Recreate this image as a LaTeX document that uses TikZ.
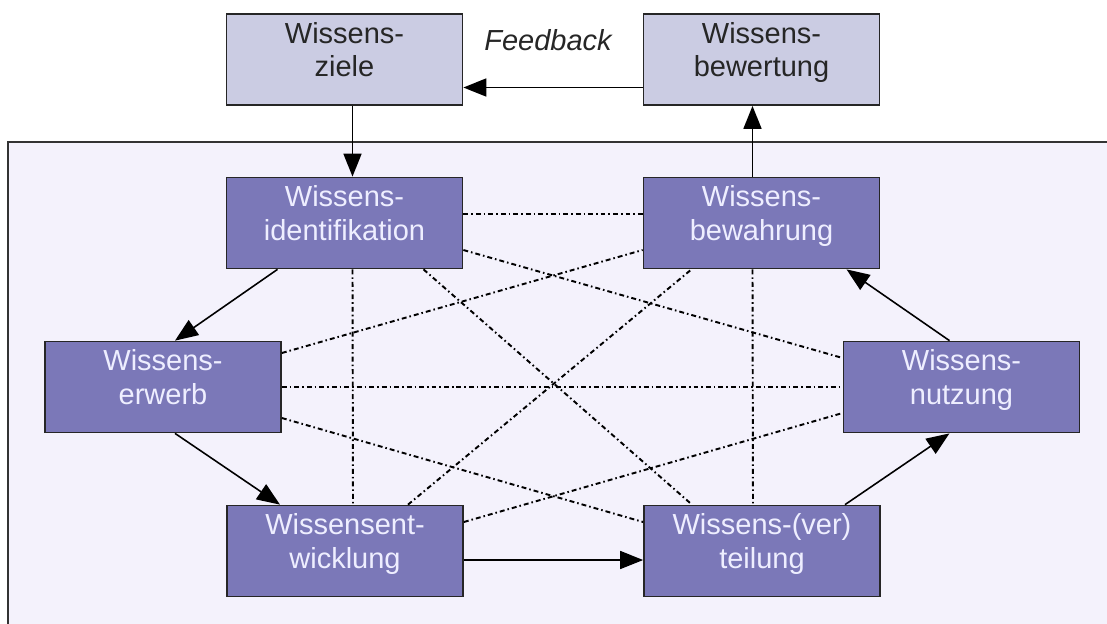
\documentclass[tikz,border=0pt]{standalone}
\usepackage{tikz}
\usepackage{xcolor}
\usepackage{fontspec}
\setmainfont{Liberation Sans}
\usetikzlibrary{arrows.meta,calc}

\definecolor{hell}{HTML}{CBCCE3}
\definecolor{dunkel}{HTML}{7B78B8}
\definecolor{grund}{HTML}{F4F2FC}
\definecolor{schrift}{HTML}{EEEEFF}

\begin{document}
\begin{tikzpicture}[x=0.02cm, y=-0.02cm,
  kasten/.style={rectangle, draw=black!85, line width=1pt, minimum width=4.72cm, text width=4.6cm, align=center, inner sep=0pt, text height=0.58cm, text depth=1.24cm, font=\fontsize{16.5pt}{19.3pt}\selectfont},
  oben/.style={kasten, fill=hell, text=black!85},
  innen/.style={kasten, fill=dunkel, text=schrift},
  pfeil/.style={-{Triangle[length=0.46cm, width=0.36cm]}, line width=0.9pt},
  punkt/.style={line width=1.1pt, dash pattern=on 2.8pt off 1.7pt on 0.9pt off 1.7pt}]
\useasboundingbox (0,0) rectangle (1107,623);
\clip (0,0) rectangle (1107,623);

\draw[line width=1pt, draw=black!80, fill=grund] (8,142) rectangle (1140,660);

\node[oben] (ziele) at (344.5,59.5) {Wissens-\\ziele};
\node[oben] (bewert) at (761.5,59.5) {Wissens-\\bewertung};
\node[font=\fontsize{16.5pt}{19.3pt}\selectfont\itshape, text=black!85] (feed) at (548,40) {Feedback};

\node[innen] (ident) at (344.5,223) {Wissens-\\identifikation};
\node[innen] (bewahr) at (761.5,223) {Wissens-\\bewahrung};
\node[innen] (erwerb) at (163,387) {Wissens-\\erwerb};
\node[innen] (nutz) at (961.5,387) {Wissens-\\nutzung};
\node[innen] (entw) at (345,551) {Wissensent-\\wicklung};
\node[innen] (verteil) at (762,551) {Wissens-(ver)\\teilung};

% Querverbindungen
\draw[punkt] ($(ident.east)+(0,-9)$) -- ($(bewahr.west)+(0,-9)$);
\draw[punkt] ($(ident.south)+(8,0)$) -- ($(entw.north)+(8,0)$);
\draw[punkt] ($(bewahr.south)+(-9,0)$) -- ($(verteil.north)+(-9,0)$);
\draw[punkt] (erwerb.east) -- (nutz.west);
\draw[punkt] ($(ident.south)+(79,0)$) -- ($(verteil.north)+(-70,0)$);
\draw[punkt] ($(ident.east)+(0,27)$) -- ($(nutz.west)+(0,-29)$);
\draw[punkt] ($(erwerb.east)+(0,-34)$) -- ($(bewahr.west)+(0,27)$);
\draw[punkt] ($(erwerb.east)+(0,31)$) -- ($(verteil.west)+(0,-29)$);
\draw[punkt] ($(entw.north)+(63,0)$) -- ($(bewahr.south)+(-70,0)$);
\draw[punkt] ($(entw.east)+(0,-29)$) -- ($(nutz.west)+(0,26)$);

% Kreislauf
\draw[pfeil] ($(bewert.west)+(0,28)$) -- ($(ziele.east)+(0,28)$);
\draw[pfeil] ($(ziele.south)+(8,0)$) -- ($(ident.north)+(8,0)$);
\draw[pfeil] ($(bewahr.north)+(-9,0)$) -- ($(bewert.south)+(-9,0)$);
\draw[pfeil] ($(ident.south)+(-67,0)$) -- ($(erwerb.north)+(12,0)$);
\draw[pfeil] ($(erwerb.south)+(12,0)$) -- ($(entw.north)+(-65,0)$);
\draw[pfeil] ($(entw.east)+(0,9)$) -- ($(verteil.west)+(0,9)$);
\draw[pfeil] ($(verteil.north)+(83,0)$) -- ($(nutz.south)+(-12,0)$);
\draw[pfeil] ($(nutz.north)+(-12,0)$) -- ($(bewahr.south)+(85,0)$);
\end{tikzpicture}
\end{document}
